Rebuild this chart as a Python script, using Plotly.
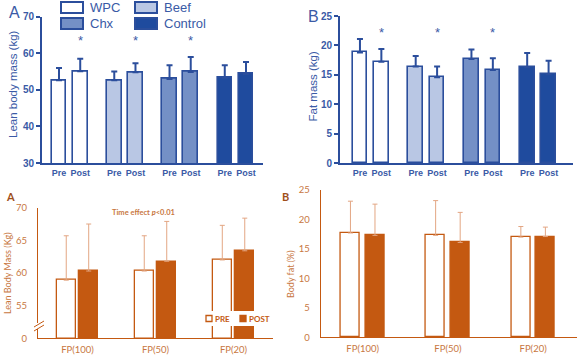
import plotly.graph_objects as go

W, H = 579, 355

# ---------------- data ----------------
groups = ["WPC", "Beef", "Chx", "Control"]
lbm_pre = [52.6, 52.6, 53.0, 53.3]
lbm_pre_err = [3.4, 2.4, 3.7, 3.4]
lbm_post = [55.1, 54.8, 54.9, 54.3]
lbm_post_err = [3.4, 2.5, 4.1, 3.3]
fat_pre = [18.8, 16.4, 17.7, 16.3]
fat_pre_err = [2.3, 1.8, 1.6, 2.4]
fat_post = [17.2, 14.6, 15.8, 15.1]
fat_post_err = [2.2, 1.8, 2.0, 2.3]
significant = [True, True, True, False]
time_labels = ["Pre", "Post"]

fp_cats = ["FP(100)", "FP(50)", "FP(20)"]
lbm2_pre = [58.9, 60.3, 62.0]
lbm2_pre_err = [6.8, 5.4, 5.3]
lbm2_post = [60.3, 61.8, 63.4]
lbm2_post_err = [7.2, 6.1, 5.0]
bf_pre = [17.7, 17.3, 17.0]
bf_pre_err = [5.4, 5.9, 1.8]
bf_post = [17.3, 16.1, 17.1]
bf_post_err = [5.3, 5.1, 1.6]
lbm2_ticks = [50, 55, 60, 65, 70]
lbm2_ticktext = ["0", "55", "60", "65", "70"]

# ---------------- style ----------------
BLUE = "#2b4e9c"
BLUE_TXT = "#3a5aa6"
group_fill = ["#ffffff", "#b9c7e4", "#7490c6", "#1f4b9e"]
ORANGE = "#c45911"
ORANGE_TXT = "#c8773f"
ERR_OR = "#e3a683"
FONT_TOP = "Liberation Sans, Arial, sans-serif"
FONT_BOT = "Lato, Open Sans, sans-serif"


def px_x(p):
    return p / W


def px_y(p):
    return 1 - p / H


fig = go.Figure()

top_bw = 0.263
top_off = 0.192
idx4 = list(range(len(groups)))

# top panels
for (pre, pre_e, post, post_e, xa, ya) in [
    (lbm_pre, lbm_pre_err, lbm_post, lbm_post_err, "x", "y"),
    (fat_pre, fat_pre_err, fat_post, fat_post_err, "x2", "y2"),
]:
    for vals, errs, off in [(pre, pre_e, -top_off), (post, post_e, top_off)]:
        fig.add_trace(go.Bar(
            x=idx4, y=vals, xaxis=xa, yaxis=ya,
            width=top_bw, offset=off - top_bw / 2,
            marker=dict(color=group_fill, line=dict(color=BLUE, width=1.6)),
            error_y=dict(type="data", array=errs, arrayminus=[0] * len(errs),
                         symmetric=False, color=BLUE, thickness=2, width=3),
            showlegend=False, hoverinfo="skip",
        ))

# bottom panels
bot_off = 0.144
idx3 = list(range(len(fp_cats)))
for (pre, pre_e, post, post_e, xa, ya, base, bw) in [
    (lbm2_pre, lbm2_pre_err, lbm2_post, lbm2_post_err, "x3", "y3", 50, 0.24),
    (bf_pre, bf_pre_err, bf_post, bf_post_err, "x4", "y4", 0, 0.223),
]:
    for vals, errs, off, fill in [(pre, pre_e, -bot_off, "#ffffff"), (post, post_e, bot_off, ORANGE)]:
        fig.add_trace(go.Bar(
            x=idx3, y=[v - base for v in vals], base=base, xaxis=xa, yaxis=ya,
            width=bw, offset=off - bw / 2,
            marker=dict(color=fill, line=dict(color=ORANGE, width=1.3)),
            error_y=dict(type="data", array=errs, arrayminus=[0] * len(errs),
                         symmetric=False, color=ERR_OR, thickness=1, width=2.5),
            showlegend=False, hoverinfo="skip",
        ))

# ---------------- axes ----------------
top_tickvals = []
top_ticktext = []
for i in idx4:
    top_tickvals += [i - top_off, i + top_off]
    top_ticktext += time_labels

xtop = dict(showline=True, linecolor=BLUE, linewidth=2, ticks="", showgrid=False,
            zeroline=False, tickvals=top_tickvals, ticktext=top_ticktext, automargin=False,
            tickfont=dict(family=FONT_TOP, size=9, color=BLUE_TXT, weight="bold"),
            ticklabelstandoff=0)
ytop = dict(showline=True, linecolor=BLUE, linewidth=2, ticks="outside", ticklen=4,
            tickwidth=2, tickcolor=BLUE, showgrid=False, zeroline=False, automargin=False,
            tickfont=dict(family=FONT_TOP, size=10, color=BLUE_TXT, weight="bold"))

xbot = dict(showline=True, linecolor=ORANGE, linewidth=1.2, ticks="", showgrid=False,
            zeroline=False, automargin=False,
            tickfont=dict(family=FONT_BOT, size=9.5, color=ORANGE_TXT),
            ticklabelstandoff=2)
ybot = dict(showline=True, linecolor=ORANGE, linewidth=1, ticks="", showgrid=False,
            zeroline=False, automargin=False,
            tickfont=dict(family=FONT_BOT, size=9.5, color=ORANGE_TXT),
            ticklabelstandoff=8)

fig.update_layout(
    width=W, height=H, margin=dict(l=0, r=0, t=0, b=0),
    paper_bgcolor="white", plot_bgcolor="white",
    bargap=0,
    xaxis=dict(xtop, domain=[px_x(42), px_x(263)], range=[-0.5, 3.5], anchor="y"),
    yaxis=dict(ytop, domain=[px_y(163), px_y(16.7)], range=[30, 70], dtick=10, anchor="x"),
    xaxis2=dict(xtop, domain=[px_x(340), px_x(573)], range=[-0.55, 3.63], anchor="y2"),
    yaxis2=dict(ytop, domain=[px_y(163), px_y(16)], range=[0, 25], dtick=5, anchor="x2"),
    xaxis3=dict(xbot, domain=[px_x(38), px_x(273)], range=[-0.506, 2.506], anchor="y3",
                tickvals=idx3, ticktext=fp_cats),
    yaxis3=dict(ybot, domain=[px_y(338.3), px_y(207.7)], range=[50, 70],
                tickvals=lbm2_ticks, ticktext=lbm2_ticktext, anchor="x3"),
    xaxis4=dict(xbot, domain=[px_x(320.7), px_x(577)], range=[-0.493, 2.515], anchor="y4",
                tickvals=idx3, ticktext=fp_cats),
    yaxis4=dict(ybot, domain=[px_y(337.3), px_y(190)], range=[0, 25], dtick=5, anchor="x4"),
)

annotations = []
shapes = []


def ptext(text, cx, cy, fam, size, col, xanchor="center", angle=0):
    return dict(x=px_x(cx), y=px_y(cy), xref="paper", yref="paper", text=text,
                textangle=angle, showarrow=False, xanchor=xanchor, yanchor="middle",
                font=dict(family=fam, size=size, color=col))


# axis titles
annotations += [
    ptext("Lean body mass (kg)", 13, 84, FONT_TOP, 11.5, BLUE_TXT, angle=-90),
    ptext("Fat mass (kg)", 312.5, 87, FONT_TOP, 11.5, BLUE_TXT, angle=-90),
    ptext("Lean Body Mass (Kg)", 7, 273, FONT_BOT, 9, ORANGE_TXT, angle=-90),
    ptext("Body fat (%)", 290, 274, FONT_BOT, 9, ORANGE_TXT, angle=-90),
]

# significance stars
for i, s in enumerate(significant):
    if s:
        annotations.append(dict(x=i + top_off, y=63.4, xref="x", yref="y", text="*",
                                showarrow=False, font=dict(family=FONT_TOP, size=13, color=BLUE_TXT)))
        annotations.append(dict(x=i + top_off, y=22.2, xref="x2", yref="y2", text="*",
                                showarrow=False, font=dict(family=FONT_TOP, size=13, color=BLUE_TXT)))

# panel letters and note
annotations += [
    ptext("A", 15, 13, FONT_TOP, 16, BLUE_TXT),
    ptext("B", 313, 16, FONT_TOP, 16, BLUE_TXT),
    ptext("<b>A</b>", 10, 196, FONT_BOT, 11, "#a0501a"),
    ptext("<b>B</b>", 285, 196, FONT_BOT, 11, "#a0501a"),
    ptext("<b>Time effect <i>p</i><0.01</b>", 143, 212, FONT_BOT, 7.5, ORANGE_TXT),
]

# top legend (boxes + labels)
legend_pos = [(61, 2), (135, 2), (61, 18), (135, 18)]
legend_order = ["WPC", "Beef", "Chx", "Control"]
for name, (lx, ly) in zip(legend_order, legend_pos):
    gi = groups.index(name)
    shapes.append(dict(type="rect", xref="paper", yref="paper",
                       x0=px_x(lx), x1=px_x(lx + 22), y0=px_y(ly + 11), y1=px_y(ly),
                       fillcolor=group_fill[gi], line=dict(color=BLUE, width=2)))
    annotations.append(ptext(name, lx + 27, ly + 5.5, FONT_TOP, 13, BLUE_TXT, xanchor="left"))

# bottom legend
shapes.append(dict(type="rect", xref="paper", yref="paper",
                   x0=px_x(203), x1=px_x(272), y0=px_y(326), y1=px_y(311),
                   fillcolor="white", line=dict(width=0), layer="above"))
for lx, fill, txt in [(206, "#ffffff", "PRE"), (240, ORANGE, "POST")]:
    shapes.append(dict(type="rect", xref="paper", yref="paper",
                       x0=px_x(lx), x1=px_x(lx + 6), y0=px_y(321.5), y1=px_y(315.5),
                       fillcolor=fill, line=dict(color=ORANGE, width=1.3)))
    annotations.append(ptext("<b>" + txt + "</b>", lx + 7, 318.5, FONT_BOT, 8, ORANGE,
                             xanchor="left"))

# axis break marks on bottom-left y axis
shapes.append(dict(type="rect", xref="paper", yref="paper",
                   x0=px_x(36.5), x1=px_x(39.5), y0=px_y(329), y1=px_y(323),
                   fillcolor="white", line=dict(width=0), layer="above"))
for dy in [0, 4]:
    shapes.append(dict(type="line", xref="paper", yref="paper",
                       x0=px_x(34), y0=px_y(327 + dy), x1=px_x(44), y1=px_y(321 + dy),
                       line=dict(color=ORANGE, width=1)))

fig.update_layout(annotations=annotations, shapes=shapes)

fig.write_html("out.html", config={"displayModeBar": False},
               post_script="document.body.style.margin='0';document.body.style.overflow='hidden';")
